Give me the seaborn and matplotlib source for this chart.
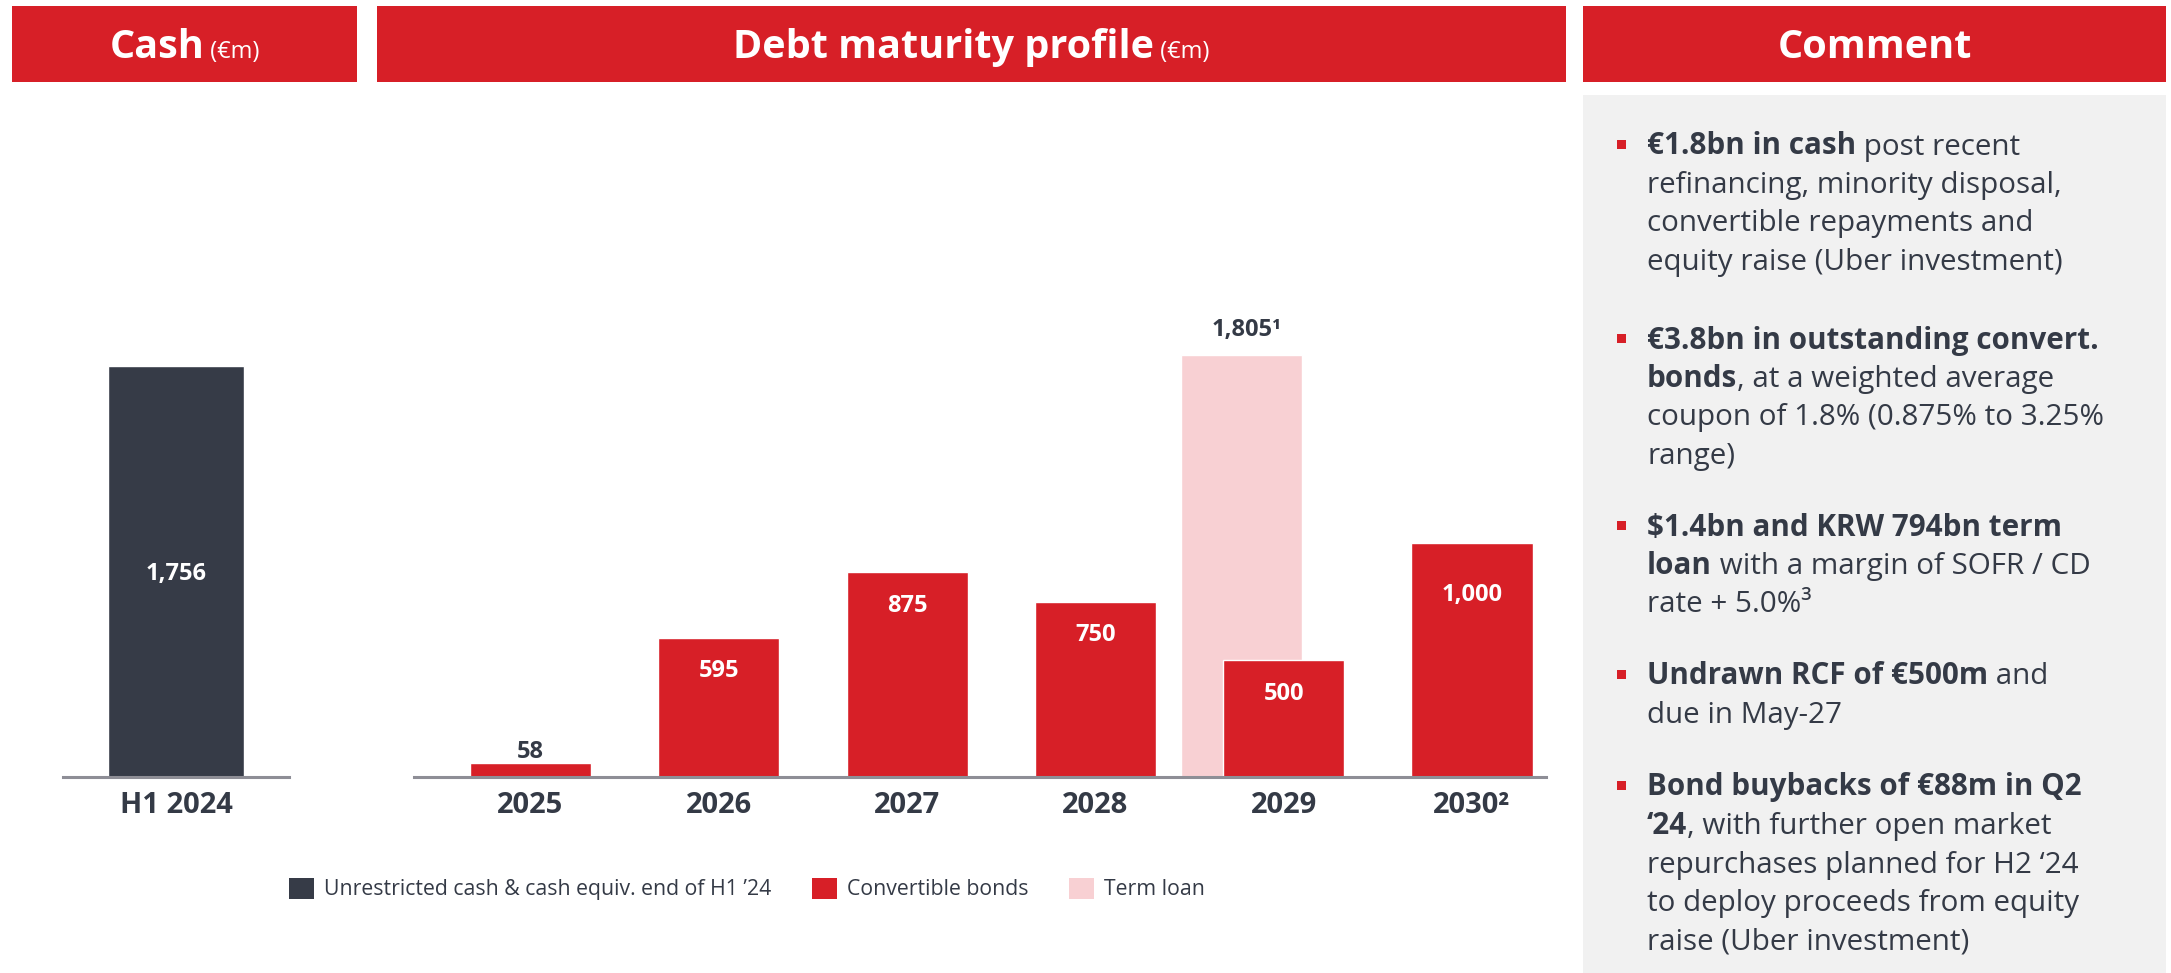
import pandas as pd
import matplotlib.pyplot as plt
import seaborn as sns
from matplotlib.patches import Patch, Rectangle
from matplotlib.transforms import Affine2D

# values (€m)
cash_labels = ['H1 2024']
cash_values = [1756]

years = ['2025', '2026', '2027', '2028', '2029', '2030']
year_labels = ['2025', '2026', '2027', '2028', '2029', '2030²']
convertible = [58, 595, 875, 750, 500, 1000]
term_loan = [0, 0, 0, 0, 1805, 0]

legend_labels = ['Unrestricted cash & cash equiv. end of H1 ’24',
                 'Convertible bonds', 'Term loan']

RED = '#D71F27'
DARK = '#363B47'
PINK = '#F8D0D3'
TXT = '#343A46'
GREY_LINE = '#8E8E96'

sns.set_theme(style='white')
plt.rcParams['font.family'] = ['Open Sans', 'DejaVu Sans']

W, H = 2171, 973
fig = plt.figure(figsize=(W / 100, H / 100), dpi=100)
fig.patch.set_facecolor('white')
renderer = fig.canvas.get_renderer()
# pixel coords, origin top-left
T = Affine2D().scale(1 / W, -1 / H).translate(0, 1) + fig.transFigure


def width_of(s, **kw):
    t = fig.text(0, 0, '|' + s + '|', **kw)
    w1 = t.get_window_extent(renderer).width
    t.set_text('||')
    w2 = t.get_window_extent(renderer).width
    t.remove()
    return w1 - w2


def draw_runs(x, y, runs, color, center=False):
    widths = [width_of(s, fontsize=fs, weight=wt) for s, fs, wt in runs]
    if center:
        x = x - sum(widths) / 2
    for (s, fs, wt), w in zip(runs, widths):
        fig.text(x, y, s, transform=T, fontsize=fs, weight=wt, color=color,
                 va='baseline', ha='left')
        x += w


# header boxes
for x0, x1 in [(12, 357), (377, 1566), (1583, 2166)]:
    fig.patches.append(Rectangle((x0, 6), x1 - x0, 76, transform=T,
                                 facecolor=RED, edgecolor='none'))
fig.patches.append(Rectangle((1583, 95), 2166 - 1583, 880, transform=T,
                             facecolor='#F1F1F1', edgecolor='none'))

draw_runs(184.5, 58, [('Cash', 28.5, 'bold'), (' (€m)', 17, 'normal')], 'white', center=True)
draw_runs(971.5, 58, [('Debt maturity profile', 28.5, 'bold'), (' (€m)', 17, 'normal')],
          'white', center=True)
draw_runs(1874.5, 58, [('Comment', 28.5, 'bold')], 'white', center=True)

# axes
ybot = (H - 777) / H
yh = 468 / H
ax_cash = fig.add_axes([63 / W, ybot, 226 / W, yh])
ax_debt = fig.add_axes([414 / W, ybot, 1132 / W, yh])

cash_df = pd.DataFrame({'label': cash_labels, 'value': cash_values})
sns.barplot(data=cash_df, x='label', y='value', color=DARK, saturation=1,
            width=0.606, ax=ax_cash)

debt = pd.DataFrame({'year': years, 'convertible': convertible, 'term_loan': term_loan})
sns.barplot(data=debt, x='year', y='convertible', order=years, color=RED,
            saturation=1, width=0.643, ax=ax_debt, zorder=2)
for i, v in enumerate(term_loan):
    if v:
        ax_debt.bar(i - 0.225, v, width=0.643, color=PINK, zorder=1)

for ax in (ax_cash, ax_debt):
    ax.set_ylim(0, 2000)
    ax.set_xlabel('')
    ax.set_ylabel('')
    ax.set_yticks([])
    for side in ('top', 'left', 'right'):
        ax.spines[side].set_visible(False)
    ax.spines['bottom'].set_color(GREY_LINE)
    ax.spines['bottom'].set_linewidth(2.2)
    ax.tick_params(axis='x', length=0, pad=10, labelsize=21, labelcolor=TXT)
    ax.set_facecolor('none')
    for lab in ax.get_xticklabels():
        lab.set_fontweight('bold')

ax_cash.set_xlim(-0.5, 0.5)
ax_debt.set_xlim(-0.619, 5.393)
ax_debt.set_xticks(range(len(years)))
ax_debt.set_xticklabels(year_labels, fontweight='bold')

# value labels
ax_cash.annotate(f'{cash_values[0]:,}', (0, cash_values[0] / 2), xytext=(0, -8.4),
                 textcoords='offset pixels', ha='center', va='baseline',
                 fontsize=17, weight='bold', color='white')

drops = [None, 39.5, 40, 39.5, 39.5, 58]
for i, v in enumerate(convertible):
    if drops[i] is None:
        ax_debt.annotate(f'{v:,}', (i, v), xytext=(0, 5), textcoords='offset pixels',
                         ha='center', va='baseline', fontsize=17, weight='bold', color=TXT)
    else:
        ax_debt.annotate(f'{v:,}', (i, v), xytext=(0, -drops[i]), textcoords='offset pixels',
                         ha='center', va='baseline', fontsize=17, weight='bold', color='white')
for i, v in enumerate(term_loan):
    if v:
        ax_debt.annotate(f'{v:,}¹', (i - 0.225, v), xytext=(5, 19), textcoords='offset pixels',
                         ha='center', va='baseline', fontsize=17, weight='bold', color=TXT)

# legend
handles = [Patch(facecolor=c, edgecolor='none') for c in (DARK, RED, PINK)]
fig.legend(handles, legend_labels, loc='center left',
           bbox_to_anchor=(289 / W, (H - 889) / H), ncol=3, frameon=False,
           fontsize=15.3, labelcolor=TXT, handlelength=1.18, handleheight=1.18,
           handletextpad=0.48, columnspacing=1.9, borderpad=0, borderaxespad=0)

# comment panel
B, R_ = 'bold', 'normal'
bullets = [
    [[('€1.8bn in cash', B), (' post recent', R_)],
     [('refinancing, minority disposal,', R_)],
     [('convertible repayments and', R_)],
     [('equity raise (Uber investment)', R_)]],
    [[('€3.8bn in outstanding convert.', B)],
     [('bonds', B), (', at a weighted average', R_)],
     [('coupon of 1.8% (0.875% to 3.25%', R_)],
     [('range)', R_)]],
    [[('$1.4bn and KRW 794bn term', B)],
     [('loan', B), (' with a margin of SOFR / CD', R_)],
     [('rate + 5.0%³', R_)]],
    [[('Undrawn RCF of €500m', B), (' and', R_)],
     [('due in May-27', R_)]],
    [[('Bond buybacks of €88m in Q2', B)],
     [('‘24', B), (', with further open market', R_)],
     [('repurchases planned for H2 ‘24', R_)],
     [('to deploy proceeds from equity', R_)],
     [('raise (Uber investment)', R_)]],
]
starts = [144, 338, 525, 674, 785]
line_h = 38.5
for start, lines in zip(starts, bullets):
    fig.patches.append(Rectangle((1617, start - 4.5), 9, 9, transform=T,
                                 facecolor=RED, edgecolor='none'))
    for k, runs in enumerate(lines):
        draw_runs(1647, start + 10.5 + k * line_h,
                  [(s, 21.3, wt) for s, wt in runs], TXT)

fig.savefig('out.png', dpi=100)
